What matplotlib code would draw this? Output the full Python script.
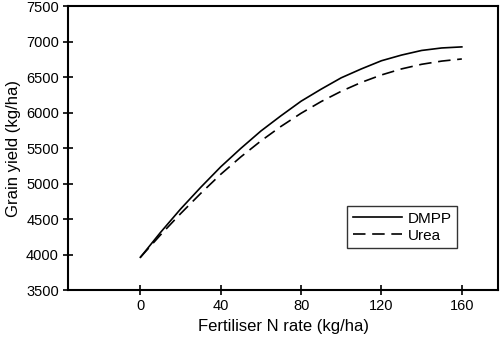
import matplotlib
matplotlib.use('Agg')
import matplotlib.pyplot as plt

plt.rcParams['font.family'] = ['Liberation Sans', 'DejaVu Sans']

# values
n_rate = [0, 10, 20, 30, 40, 50, 60, 70, 80, 90, 100, 110, 120, 130, 140, 150, 160]
dmpp = [3960, 4310, 4640, 4945, 5235, 5495, 5740, 5955, 6160, 6330, 6490,
        6615, 6730, 6810, 6875, 6910, 6925]
urea = [3960, 4275, 4575, 4860, 5130, 5375, 5600, 5805, 5990, 6155, 6300,
        6425, 6530, 6615, 6680, 6725, 6755]

xticks = [0, 40, 80, 120, 160]
yticks = [3500, 4000, 4500, 5000, 5500, 6000, 6500, 7000, 7500]

fig = plt.figure(figsize=(5.0, 3.38), dpi=100)
ax = fig.add_axes([0.136, 0.142, 0.86, 0.84])

ax.plot(n_rate, dmpp, color='black', lw=1.2, label='DMPP')
ax.plot(n_rate, urea, color='black', lw=1.2, dashes=(7.5, 4), label='Urea')

ax.set_xlim(-36, 178)
ax.set_ylim(3500, 7500)
ax.set_xticks(xticks)
ax.set_yticks(yticks)
ax.tick_params(direction='inout', length=7, width=1.2, labelsize=10.5, pad=3)
for s in ax.spines.values():
    s.set_linewidth(1.5)

ax.set_xlabel('Fertiliser N rate (kg/ha)', fontsize=12, labelpad=4)
ax.set_ylabel('Grain yield (kg/ha)', fontsize=12, labelpad=4)

leg = ax.legend(loc='lower right', bbox_to_anchor=(0.905, 0.148), fontsize=11,
                frameon=True, fancybox=False, handlelength=3.2,
                borderpad=0.35, labelspacing=0.2, handletextpad=0.4,
                borderaxespad=0)
leg.get_frame().set_edgecolor('black')
leg.get_frame().set_linewidth(1.0)

fig.savefig('out.png', dpi=100)
